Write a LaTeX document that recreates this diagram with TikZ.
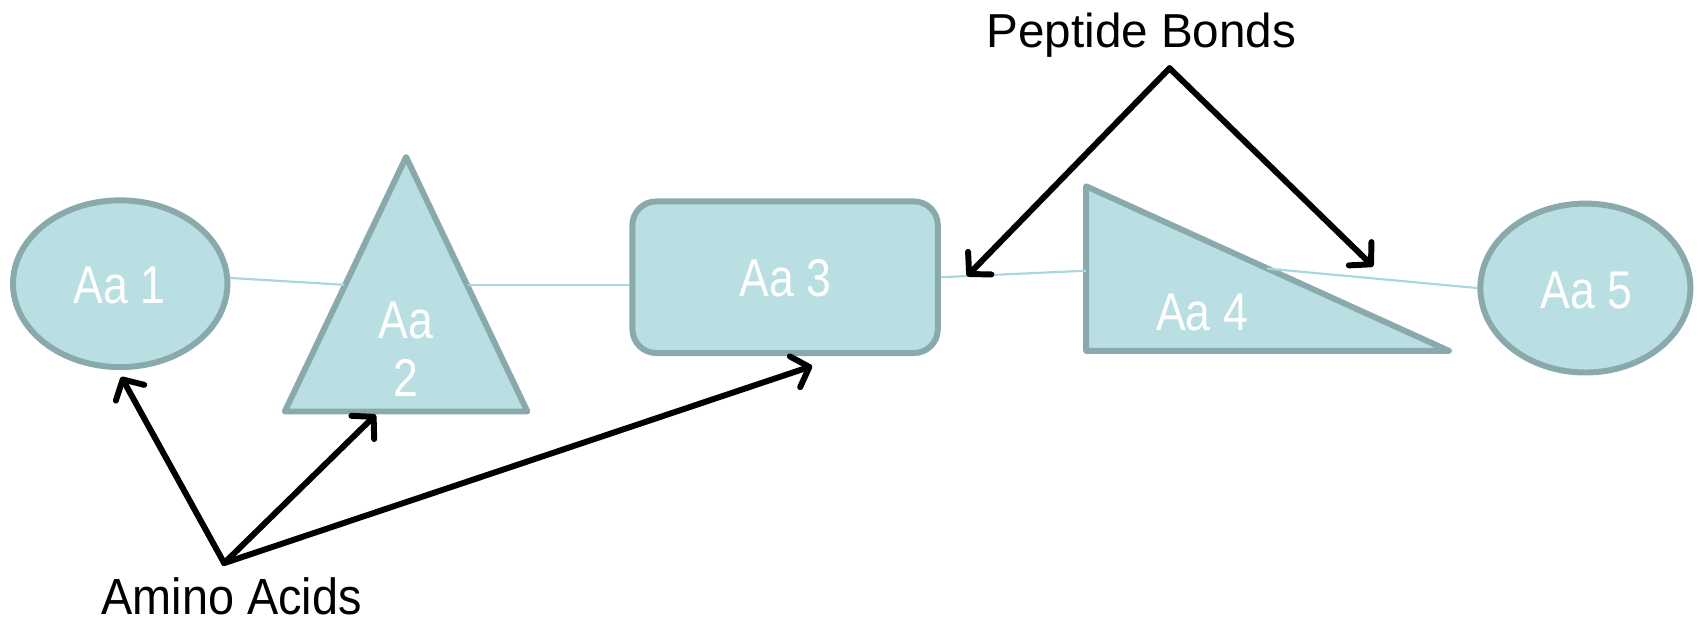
\documentclass[tikz,border=0pt]{standalone}
\usepackage{fontspec}
\setmainfont{Liberation Sans}
\usepackage{graphicx}
\usetikzlibrary{shapes.geometric,arrows.meta}
\definecolor{aafill}{HTML}{B9DFE2}
\definecolor{aaline}{HTML}{8AA9AD}
\definecolor{bond}{HTML}{A8D8DC}
\newcommand{\nar}[1]{\scalebox{0.84}[1]{#1}}
\begin{document}
\begin{tikzpicture}[x=1pt,y=1pt,
  shapebox/.style={draw=aaline,fill=aafill,line width=5.5pt,line join=round},
  lbl/.style={text=white,font=\fontsize{49}{53}\selectfont,inner sep=0pt,anchor=base},
  bondline/.style={draw=bond,line width=2pt},
  arr/.style={line width=5.5pt,line cap=round,-{Straight Barb[length=14pt,width=30pt,round]}},
  capt/.style={font=\fontsize{44}{50}\selectfont,inner sep=0pt,anchor=base}]
\useasboundingbox (0,0) rectangle (1568,576);
% shapes
\node[shapebox,ellipse,minimum width=198pt,minimum height=154pt,inner sep=0pt] (aa1) at (111,314) {};
\coordinate (a2top) at (375,431);
\coordinate (a2l) at (263,196);
\coordinate (a2r) at (487,196);
\draw[shapebox] (a2top) -- (a2r) -- (a2l) -- cycle;
\node[shapebox,rectangle,rounded corners=22pt,minimum width=282pt,minimum height=140pt] (aa3) at (725,320) {};
\coordinate (a4top) at (1003,404);
\coordinate (a4bl) at (1003,252);
\coordinate (a4br) at (1338,252);
\draw[shapebox] (a4top) -- (a4br) -- (a4bl) -- cycle;
\node[shapebox,ellipse,minimum width=194pt,minimum height=156pt,inner sep=0pt] (aa5) at (1464,310) {};
% labels
\node[lbl] (t1) at (110,296) {\nar{Aa 1}};
\node[lbl] (t2a) at (375,263) {\nar{Aa}};
\node[lbl] (t2b) at (375,210) {\nar{2}};
\node[lbl] (t3) at (725,302) {\nar{Aa 3}};
\node[lbl] (t4) at (1110,271) {\nar{Aa 4}};
\node[lbl] (t5) at (1465,291) {\nar{Aa 5}};
% bonds
\coordinate (a2w) at (318,313);
\coordinate (a2e) at (432,313);
\coordinate (a4w) at (1003,326);
\coordinate (a4h) at (1170,328);
\draw[bondline] (aa1.3) -- (a2w);
\draw[bondline] (a2e) -- (aa3.west |- a2e);
\draw[bondline] (aa3.east) -- (a4w);
\draw[bondline] (a4h) -- (aa5.west);
% captions
\node[capt] (pep) at (1054,532) {Peptide Bonds};
\node[capt] (ami) at (214,9) {\scalebox{0.92}[1]{\fontsize{47}{50}\selectfont Amino Acids}};
\coordinate (pepx) at (1080,513);
\coordinate (amix) at (207,56);
\coordinate (p1) at (893,321);
\coordinate (p2) at (1268,330);
\coordinate (m1) at (112,228);
\coordinate (m2) at (347,193);
\coordinate (m3) at (750,238);
\draw[arr] (pepx) -- (p1);
\draw[arr] (pepx) -- (p2);
\draw[arr] (amix) -- (m1);
\draw[arr] (amix) -- (m2);
\draw[arr] (amix) -- (m3);
\end{tikzpicture}
\end{document}
